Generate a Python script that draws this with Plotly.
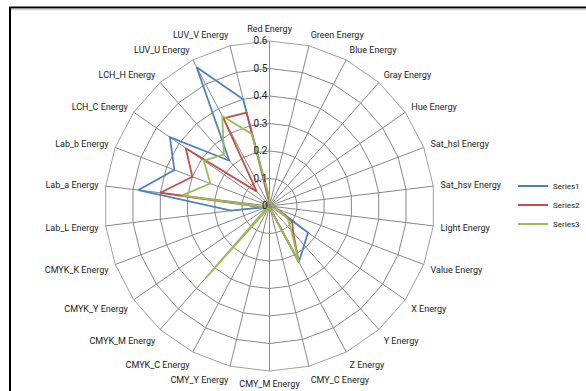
import plotly.graph_objects as go

# Radar axes: one spoke per colour-space energy feature
categories = [
    "Red Energy", "Green Energy", "Blue Energy", "Gray Energy", "Hue Energy",
    "Sat_hsl Energy", "Sat_hsv Energy", "Light Energy", "Value Energy",
    "X Energy", "Y Energy", "Z Energy", "CMY_C Energy", "CMY_M Energy",
    "CMY_Y Energy", "CMYK_C Energy", "CMYK_M Energy", "CMYK_Y Energy",
    "CMYK_K Energy", "Lab_L Energy", "Lab_a Energy", "Lab_b Energy",
    "LCH_C Energy", "LCH_H Energy", "LUV_U Energy", "LUV_V Energy",
]

series1 = [0.02, 0.01, 0.01, 0.01, 0.01, 0.01, 0.01, 0.02, 0.03,
           0.17, 0.19, 0.23, 0.01, 0.01, 0.01, 0.01, 0.01, 0.01,
           0.01, 0.14, 0.48, 0.37, 0.44, 0.22, 0.57, 0.40]
series2 = [0.02, 0.01, 0.01, 0.01, 0.01, 0.01, 0.01, 0.02, 0.03,
           0.10, 0.13, 0.23, 0.01, 0.01, 0.01, 0.01, 0.01, 0.01,
           0.01, 0.03, 0.40, 0.30, 0.37, 0.07, 0.36, 0.35]
series3 = [0.03, 0.01, 0.01, 0.01, 0.01, 0.01, 0.01, 0.02, 0.03,
           0.08, 0.12, 0.23, 0.01, 0.01, 0.01, 0.01, 0.35, 0.01,
           0.01, 0.03, 0.32, 0.23, 0.29, 0.25, 0.37, 0.27]

series_names = ["Series1", "Series2", "Series3"]
series_colors = ["#4F81BD", "#C0504D", "#9BBB59"]
radial_ticks = [0, 0.1, 0.2, 0.3, 0.4, 0.5, 0.6]

fig = go.Figure()
for name, vals, color in zip(series_names, [series1, series2, series3], series_colors):
    fig.add_trace(go.Scatterpolar(
        r=vals + vals[:1],
        theta=categories + categories[:1],
        mode="lines",
        name=name,
        line=dict(color=color, width=1.8),
    ))

W, H = 586, 391
cx, cy, rad = 269.5, 206, 165

fig.update_layout(
    width=W, height=H,
    margin=dict(l=0, r=0, t=0, b=0, autoexpand=False),
    paper_bgcolor="white",
    font=dict(family="Roboto, Arial, sans-serif", size=9, color="#222222"),
    polar=dict(
        domain=dict(x=[(cx - rad) / W, (cx + rad) / W],
                    y=[(H - cy - rad) / H, (H - cy + rad) / H]),
        bgcolor="white",
        gridshape="linear",
        angularaxis=dict(
            categoryorder="array", categoryarray=categories,
            rotation=90, direction="clockwise",
            showline=True, linecolor="#888888", linewidth=0.8,
            gridcolor="#888888", gridwidth=0.8,
            ticks="outside", ticklen=5, tickcolor="rgba(0,0,0,0)",
            tickfont=dict(size=9, color="#222222"),
        ),
        radialaxis=dict(
            range=[0, 0.6], tickvals=radial_ticks,
            ticktext=[f"{v:g}" for v in radial_ticks],
            angle=90, tickangle=90, side="counterclockwise",
            showline=False, ticks="",
            gridcolor="#888888", gridwidth=0.8,
            tickfont=dict(size=10, color="#222222"),
        ),
    ),
    legend=dict(
        x=513 / W, y=1 - 205 / H, xanchor="left", yanchor="middle",
        font=dict(size=8, color="#222222"),
        itemwidth=30, tracegroupgap=0,
        bgcolor="rgba(0,0,0,0)",
    ),
    shapes=[
        dict(type="line", xref="paper", yref="paper",
             x0=9.5 / W, x1=1, y0=1 - 7.5 / H, y1=1 - 7.5 / H,
             line=dict(color="black", width=2)),
        dict(type="line", xref="paper", yref="paper",
             x0=10 / W, x1=10 / W, y0=0, y1=1 - 7 / H,
             line=dict(color="black", width=2)),
        dict(type="line", xref="paper", yref="paper",
             x0=11 / W, x1=1, y0=1 - 9.5 / H, y1=1 - 9.5 / H,
             line=dict(color="#d0d0d0", width=1.5)),
    ],
)

fig.write_html("out.html")
